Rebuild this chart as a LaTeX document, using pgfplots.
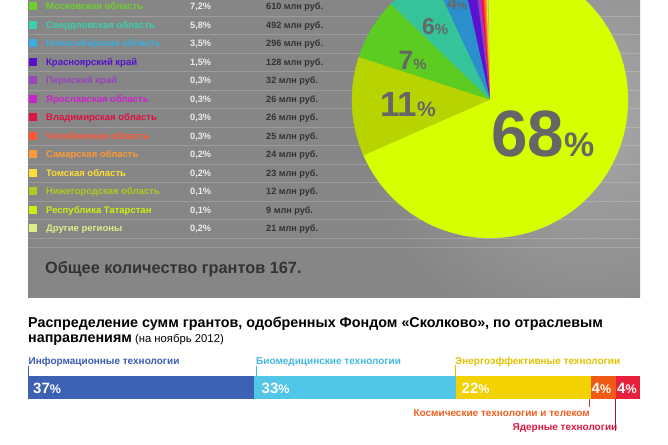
\documentclass[border=0pt]{standalone}
\usepackage{pgfplots}
\pgfplotsset{compat=1.18}
\usepackage{fontspec}
\setmainfont{Liberation Sans}
\newcommand\fs[1]{\fontsize{#1}{#1}\selectfont}
% pie colours
\definecolor{pMos}{HTML}{D6FF00}
\definecolor{pX}{HTML}{B8D400}
\definecolor{pMO}{HTML}{5CCC22}
\definecolor{pSv}{HTML}{35C49A}
\definecolor{pNs}{HTML}{2A8FCC}
\definecolor{pKr}{HTML}{5A12D0}
\definecolor{pPe}{HTML}{8A44BB}
\definecolor{pYa}{HTML}{CC22CC}
\definecolor{pVl}{HTML}{E0104A}
\definecolor{pCh}{HTML}{FF5522}
\definecolor{pSa}{HTML}{FF9922}
\definecolor{pTo}{HTML}{FFDD22}
\definecolor{pNi}{HTML}{AACC22}
\definecolor{pTa}{HTML}{CCEE00}
\definecolor{pOt}{HTML}{DDEE88}
% table text colours
\definecolor{tMO}{HTML}{6ED02A}
\definecolor{tSv}{HTML}{3ACFAE}
\definecolor{tNs}{HTML}{3AAEE0}
\definecolor{tKr}{HTML}{5511CC}
\definecolor{tPe}{HTML}{9944BB}
\definecolor{tYa}{HTML}{CC22CC}
\definecolor{tVl}{HTML}{DD1144}
\definecolor{tCh}{HTML}{FF5533}
\definecolor{tSa}{HTML}{FF9933}
\definecolor{tTo}{HTML}{FFDD33}
\definecolor{tNi}{HTML}{AACC22}
\definecolor{tTa}{HTML}{CCEE11}
\definecolor{tOt}{HTML}{DDEE88}
\definecolor{panel}{HTML}{868686}
\definecolor{panelLight}{HTML}{A8A8A8}
\definecolor{dark}{HTML}{333333}
\definecolor{pielbl}{HTML}{666666}
% bar colours
\definecolor{bIT}{HTML}{3D62B4}
\definecolor{bBio}{HTML}{52C6E6}
\definecolor{bEn}{HTML}{F2D200}
\definecolor{bSp}{HTML}{F05A14}
\definecolor{bNu}{HTML}{E8203E}
\definecolor{lIT}{HTML}{3A5DB0}
\definecolor{lBio}{HTML}{45B8E0}
\definecolor{lEn}{HTML}{E2C200}
\definecolor{lSp}{HTML}{F06020}
\definecolor{lNu}{HTML}{E01840}

% slice between cumulative percentages #1 and #2, counter-clockwise from 12 o'clock
\newcommand\pieslice[3]{%
  \addplot[fill=#3, draw=#3, line width=0.3pt, domain={90+3.6*#1}:{90+3.6*#2}, samples=90, variable=\t]
    ({cos(\t)},{sin(\t)}) -- (0,0) -- cycle;
}
\newcommand\row[5]{% baseline(img y), colour, name, pct, amount
  \fill[#2] (28.5,{444-#1-0.5}) rectangle (36.5,{444-#1+7.5});
  \node[anchor=base west, inner sep=0, text=#2, font=\fs{9.5}\bfseries] at (46,{444-#1}) {#3};
  \node[anchor=base west, inner sep=0, text=white!93!black, font=\fs{9.2}\bfseries] at (190,{444-#1}) {#4};
  \node[anchor=base west, inner sep=0, text=dark, font=\fs{9.1}\bfseries] at (266,{444-#1}) {#5};
  \draw[white, opacity=0.18, line width=0.8pt] (28,{444-#1-6}) -- (640,{444-#1-6});
}

\begin{document}
\begin{tikzpicture}[x=1pt,y=1pt]
\useasboundingbox (0,0) rectangle (668,444);
\clip (0,0) rectangle (668,444);
\fill[white] (0,0) rectangle (668,444);
% grey panel
\begin{scope}
  \clip (28,146) rectangle (640,450);
  \fill[panel] (28,146) rectangle (640,450);
  \shade[inner color=panelLight, outer color=panel] (590,330) circle (230);
\end{scope}
% table
\row{10}{tMO}{Московская область}{7,2\%}{610 млн руб.}
\row{28.5}{tSv}{Свердловская область}{5,8\%}{492 млн руб.}
\row{47}{tNs}{Новосибирская область}{3,5\%}{296 млн руб.}
\row{65.5}{tKr}{Красноярский край}{1,5\%}{128 млн руб.}
\row{84}{tPe}{Пермский край}{0,3\%}{32 млн руб.}
\row{102.5}{tYa}{Ярославская область}{0,3\%}{26 млн руб.}
\row{121}{tVl}{Владимирская область}{0,3\%}{26 млн руб.}
\row{139.5}{tCh}{Челябинская область}{0,3\%}{25 млн руб.}
\row{158}{tSa}{Самарская область}{0,2\%}{24 млн руб.}
\row{176.5}{tTo}{Томская область}{0,2\%}{23 млн руб.}
\row{195}{tNi}{Нижегородская область}{0,1\%}{12 млн руб.}
\row{213.5}{tTa}{Республика Татарстан}{0,1\%}{9 млн руб.}
\row{232}{tOt}{Другие регионы}{0,2\%}{21 млн руб.}
\draw[white, opacity=0.18, line width=0.8pt] (28,197) -- (640,197);
\node[anchor=base west, inner sep=0, text=dark, font=\fs{16.3}\bfseries] at (45,170.7) {Общее количество грантов 167.};

% pie
\begin{axis}[at={(490pt,344pt)}, anchor=center, x=138pt, y=138pt,
  xmin=-1, xmax=1, ymin=-1, ymax=1, hide axis, clip=false]
\pieslice{0}{0.2}{pOt}
\pieslice{0.2}{0.3}{pTa}
\pieslice{0.3}{0.4}{pNi}
\pieslice{0.4}{0.6}{pTo}
\pieslice{0.6}{0.8}{pSa}
\pieslice{0.8}{1.1}{pCh}
\pieslice{1.1}{1.4}{pVl}
\pieslice{1.4}{1.7}{pYa}
\pieslice{1.7}{2.0}{pPe}
\pieslice{2.0}{3.5}{pKr}
\pieslice{3.5}{7.0}{pNs}
\pieslice{7.0}{12.8}{pSv}
\pieslice{12.8}{20.0}{pMO}
\pieslice{20.0}{31.6}{pX}
\pieslice{31.6}{100}{pMos}
\end{axis}
% pie labels
\node[anchor=base west, inner sep=0, text=pielbl, font=\bfseries] at (491,287) {\fs{65.5}68\fs{34}\%};
\node[anchor=base west, inner sep=0, text=pielbl, font=\bfseries] at (380,327) {\fs{35}11\fs{21}\%};
\node[anchor=base west, inner sep=0, text=pielbl, font=\bfseries] at (398.5,374) {\fs{26.5}7\fs{15}\%};
\node[anchor=base west, inner sep=0, text=pielbl, font=\bfseries] at (422,409) {\fs{23}6\fs{15}\%};
\node[anchor=base west, inner sep=0, text=pielbl, font=\bfseries] at (447,434.5) {\fs{18}4\fs{11}\%};

% title
\node[anchor=base west, inner sep=0, font=\fs{14.3}\bfseries] at (28,116) {Распределение сумм грантов, одобренных Фондом «Сколково», по отраслевым};
\node[anchor=base west, inner sep=0] at (28,101) {\fs{14.3}\bfseries направлениям\fs{11.3}\mdseries{} (на ноябрь 2012)};

% stacked bar
\begin{axis}[at={(28pt,45pt)}, anchor=south west, width=612pt, height=23pt, scale only axis,
  xmin=0, xmax=100, ymin=0, ymax=1, hide axis, xbar stacked, bar width=23pt, clip=false]
\addplot[fill=bIT, draw=none] coordinates {(37,0.5)};
\addplot[fill=bBio, draw=none] coordinates {(33,0.5)};
\addplot[fill=bEn, draw=none] coordinates {(22,0.5)};
\addplot[fill=bSp, draw=none] coordinates {(4,0.5)};
\addplot[fill=bNu, draw=none] coordinates {(4,0.5)};
\end{axis}
% bar labels
\node[anchor=base west, inner sep=0, text=white, font=\bfseries] at (33,50.7) {\fs{15}37\fs{12.5}\%};
\node[anchor=base west, inner sep=0, text=white, font=\bfseries] at (261.5,50.7) {\fs{15}33\fs{12.5}\%};
\node[anchor=base west, inner sep=0, text=white, font=\bfseries] at (461.5,50.7) {\fs{15}22\fs{12.5}\%};
\node[anchor=base west, inner sep=0, text=white, font=\bfseries] at (591.5,50.7) {\fs{15}4\fs{12.5}\%};
\node[anchor=base west, inner sep=0, text=white, font=\bfseries] at (617,50.7) {\fs{15}4\fs{12.5}\%};
% category labels and leader lines
\node[anchor=base west, inner sep=0, text=lIT, font=\fs{10}\bfseries] at (28.5,80) {Информационные технологии};
\node[anchor=base west, inner sep=0, text=lBio, font=\fs{10}\bfseries] at (256,80) {Биомедицинские технологии};
\node[anchor=base west, inner sep=0, text=lEn, font=\fs{10}\bfseries] at (455,80) {Энергоэффективные технологии};
\draw[lIT, line width=0.9pt] (28.5,78) -- (28.5,68);
\draw[lBio, line width=0.9pt] (256,78) -- (256,68);
\draw[lEn, line width=0.9pt] (455.5,79) -- (455.5,68);
\node[anchor=base east, inner sep=0, text=lSp, font=\fs{10}\bfseries] at (590,27.5) {Космические технологии и телеком};
\node[anchor=base east, inner sep=0, text=lNu, font=\fs{10}\bfseries] at (617.5,13.3) {Ядерные технологии};
\draw[lSp!80!black, line width=0.9pt] (589,45) -- (589,37);
\draw[lNu!80!black, line width=0.9pt] (615.5,45) -- (615.5,13);
\end{tikzpicture}
\end{document}
